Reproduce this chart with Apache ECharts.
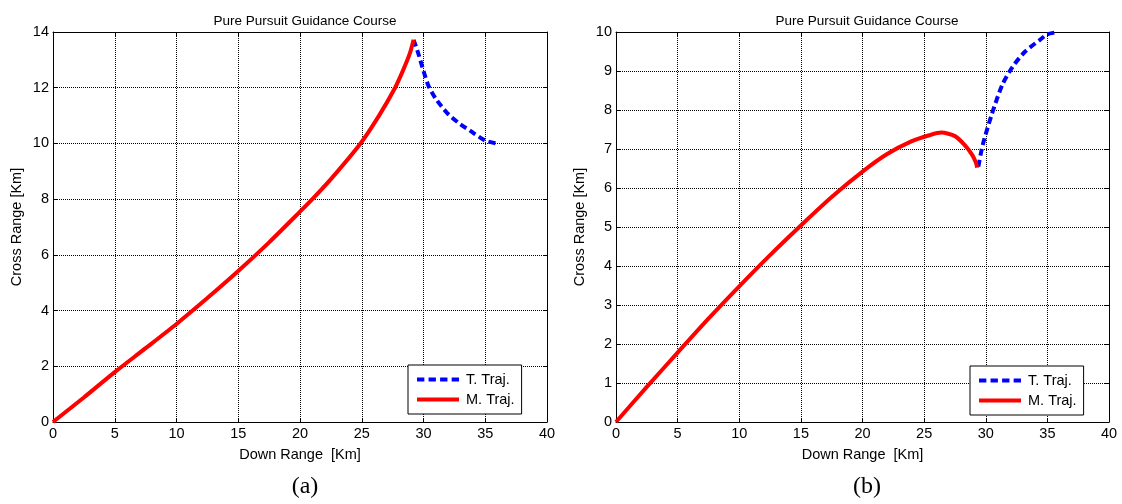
<!DOCTYPE html>
<html>
<head>
<meta charset="utf-8">
<script src="https://cdn.jsdelivr.net/npm/echarts@6/dist/echarts.min.js"></script>
<style>
html,body{margin:0;padding:0;background:#fff;}
#chart{width:1122px;height:504px;}
</style>
</head>
<body>
<div id="chart"></div>
<script>
// ---- Data (km) ----
var titleText = 'Pure Pursuit Guidance Course';
var xName = 'Down Range  [Km]';
var yName = 'Cross Range [Km]';
var legendNames = ['T. Traj.', 'M. Traj.'];
var captions = ['(a)', '(b)'];

var xTicksA = [0, 40, 5];
var yTicksA = [0, 14, 2];
var xTicksB = [0, 40, 5];
var yTicksB = [0, 10, 1];

// Plot (a): target trajectory
var targetA = [[29.2,13.72],[29.6,13.2],[30.0,12.6],[30.4,12.07],[31.0,11.6],[31.9,11.1],[32.8,10.75],[33.8,10.45],[35.0,10.1],[35.9,10.0]];
// Plot (a): missile trajectory
var missileA = [[0,0],[2.5,0.88],[5,1.79],[7.5,2.65],[10,3.52],[12.5,4.45],[15,5.42],[17.5,6.45],[20,7.55],[21,8.0],[22.5,8.72],[24.9,10.0],[26.4,11.0],[27.7,12.0],[28.36,12.64],[28.9,13.24],[29.2,13.72]];

// Plot (b): target trajectory
var targetB = [[29.4,6.55],[29.75,7.1],[30.5,7.9],[31.35,8.65],[32.2,9.12],[33.2,9.5],[34.4,9.8],[35.0,9.94],[35.85,10.0]];
// Plot (b): missile trajectory
var missileB = [[0,0],[2.5,0.9],[5,1.78],[7.5,2.65],[10,3.48],[12.5,4.28],[15,5.04],[17.5,5.77],[20,6.42],[22,6.87],[24,7.2],[25.5,7.36],[26.4,7.42],[27.5,7.33],[28.3,7.1],[28.9,6.85],[29.2,6.65],[29.3,6.52]];

var FONT = '"Liberation Sans", Arial, sans-serif';
var FS = 14.5;

var grids = [
  {left:53, top:32, width:494, height:390},
  {left:616, top:32, width:493, height:390}
];

function xAxisMain(gi, t){
  return {
    type:'value', gridIndex:gi, min:t[0], max:t[1], interval:t[2],
    name:xName, nameLocation:'middle', nameGap:25,
    nameTextStyle:{fontFamily:FONT, fontSize:FS, color:'#000'},
    axisLine:{show:true, onZero:false, lineStyle:{color:'#000', width:1}},
    axisTick:{show:true, inside:true, length:4, lineStyle:{color:'#000'}},
    axisLabel:{fontFamily:FONT, fontSize:FS, color:'#000', margin:4},
    splitLine:{show:true, lineStyle:{color:'#000', type:'dotted', width:1}}
  };
}
function xAxisTop(gi, t){
  return {
    type:'value', gridIndex:gi, position:'top', min:t[0], max:t[1], interval:t[2],
    axisLine:{show:true, onZero:false, lineStyle:{color:'#000', width:1}},
    axisTick:{show:true, inside:true, length:4, lineStyle:{color:'#000'}},
    axisLabel:{show:false}, splitLine:{show:false}
  };
}
function yAxisMain(gi, t){
  return {
    type:'value', gridIndex:gi, min:t[0], max:t[1], interval:t[2],
    name:yName, nameLocation:'middle', nameGap:29,
    nameTextStyle:{fontFamily:FONT, fontSize:FS, color:'#000'},
    axisLine:{show:true, onZero:false, lineStyle:{color:'#000', width:1}},
    axisTick:{show:true, inside:true, length:4, lineStyle:{color:'#000'}},
    axisLabel:{fontFamily:FONT, fontSize:FS, color:'#000', margin:4},
    splitLine:{show:true, lineStyle:{color:'#000', type:'dotted', width:1}}
  };
}
function yAxisRight(gi, t){
  return {
    type:'value', gridIndex:gi, position:'right', min:t[0], max:t[1], interval:t[2],
    axisLine:{show:true, onZero:false, lineStyle:{color:'#000', width:1}},
    axisTick:{show:true, inside:true, length:4, lineStyle:{color:'#000'}},
    axisLabel:{show:false}, splitLine:{show:false}
  };
}

function targetSeries(data, xi, yi){
  return {
    name:legendNames[0], type:'line', data:data, xAxisIndex:xi, yAxisIndex:yi,
    showSymbol:false, symbol:'none', smooth:0.25, clip:false,
    lineStyle:{color:'#0000ff', width:4, type:[7,4]},
    itemStyle:{color:'#0000ff'}, z:3
  };
}
function missileSeries(data, xi, yi){
  return {
    name:legendNames[1], type:'line', data:data, xAxisIndex:xi, yAxisIndex:yi,
    showSymbol:false, symbol:'none', smooth:0.25, clip:false,
    lineStyle:{color:'#ff0000', width:4, type:'solid'},
    itemStyle:{color:'#ff0000'}, z:3
  };
}

var dashIcon = 'path://M0,0H7V4H0Z M11,0H18V4H11Z M22,0H29V4H22Z M33,0H40V4H33Z';
var solidIcon = 'path://M0,0H40V4H0Z';

function legendAt(left, top){
  return {
    orient:'vertical', left:left, top:top,
    data:[
      {name:legendNames[0], icon:dashIcon, itemStyle:{color:'#0000ff'}},
      {name:legendNames[1], icon:solidIcon, itemStyle:{color:'#ff0000'}}
    ],
    backgroundColor:'#fff', borderColor:'#000', borderWidth:1, borderRadius:0,
    padding:[7,7,7,9], itemGap:5, itemWidth:42, itemHeight:5,
    textStyle:{fontFamily:FONT, fontSize:FS, color:'#000', padding:[0,0,0,2]},
    selectedMode:false
  };
}

var option = {
  backgroundColor:'#fff',
  animation:false,
  title:[
    {text:titleText, left:300, top:9, textAlign:'center', textStyle:{fontFamily:FONT, fontSize:13.5, fontWeight:'normal', color:'#000'}},
    {text:titleText, left:862, top:9, textAlign:'center', textStyle:{fontFamily:FONT, fontSize:13.5, fontWeight:'normal', color:'#000'}},
    {text:captions[0], left:300, top:470, textAlign:'center', textStyle:{fontFamily:'"Liberation Serif", "Times New Roman", serif', fontSize:24, fontWeight:'normal', color:'#000'}},
    {text:captions[1], left:862, top:470, textAlign:'center', textStyle:{fontFamily:'"Liberation Serif", "Times New Roman", serif', fontSize:24, fontWeight:'normal', color:'#000'}}
  ],
  grid:grids,
  xAxis:[xAxisMain(0, xTicksA), xAxisMain(1, xTicksB), xAxisTop(0, xTicksA), xAxisTop(1, xTicksB)],
  yAxis:[yAxisMain(0, yTicksA), yAxisMain(1, yTicksB), yAxisRight(0, yTicksA), yAxisRight(1, yTicksB)],
  legend:[legendAt(408, 365), legendAt(970, 366)],
  series:[
    targetSeries(targetA, 0, 0),
    missileSeries(missileA, 0, 0),
    targetSeries(targetB, 1, 1),
    missileSeries(missileB, 1, 1)
  ]
};

var chart = echarts.init(document.getElementById('chart'), null, {renderer:'canvas'});
chart.setOption(option);
</script>
</body>
</html>
